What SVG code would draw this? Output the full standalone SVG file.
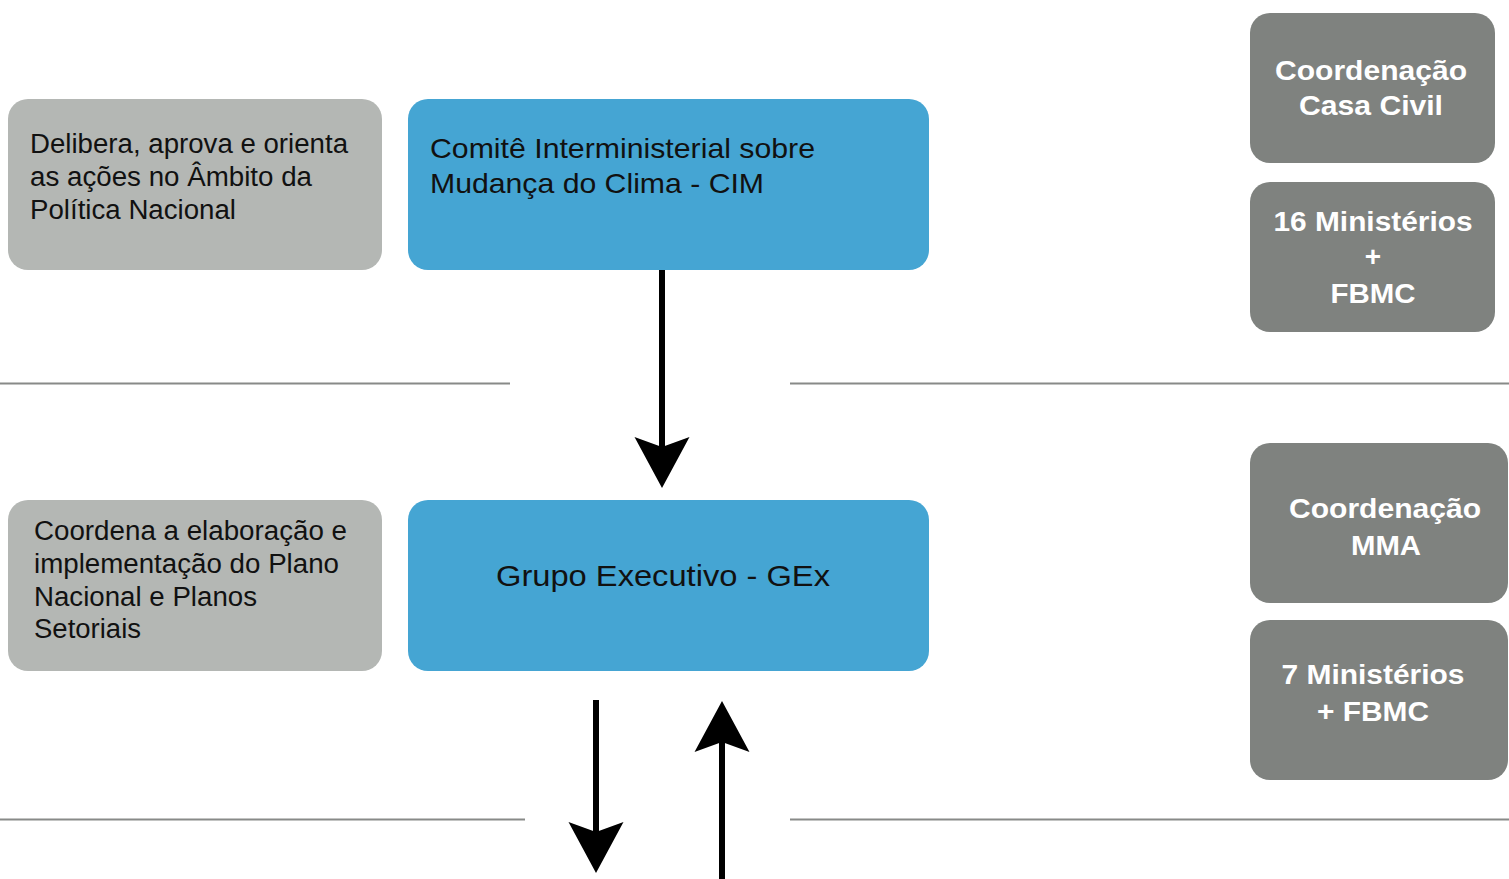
<svg xmlns="http://www.w3.org/2000/svg" width="1509" height="879" viewBox="0 0 1509 879">
<style>
.bg{fill:#ffffff}
.desc{fill:#b4b7b4}
.main{fill:#45a5d3}
.side{fill:#7f827f}
.sep{stroke:#888a88;stroke-width:2;fill:none}
.conn{stroke:#000;stroke-width:6;fill:none}
.t{font-family:"Liberation Sans",Arial,sans-serif;fill:#111;font-size:27px}
.tb{font-family:"Liberation Sans",Arial,sans-serif;fill:#fff;font-size:28px;font-weight:bold;text-anchor:middle}
</style>
<defs>
<marker id="ah" markerUnits="userSpaceOnUse" orient="auto" viewBox="-52 -28 53 56" markerWidth="53" markerHeight="56" refX="-20" refY="0">
<path d="M0,0 L-51,-27.5 L-41,0 L-51,27.5 Z" fill="#000"/>
</marker>
</defs>
<rect class="bg" x="0" y="0" width="1509" height="879"/>
<g id="separators">
<line class="sep" x1="0" y1="383.5" x2="510" y2="383.5"/>
<line class="sep" x1="790" y1="383.5" x2="1509" y2="383.5"/>
<line class="sep" x1="0" y1="819.5" x2="525" y2="819.5"/>
<line class="sep" x1="790" y1="819.5" x2="1509" y2="819.5"/>
</g>
<g id="desc1">
<rect class="desc" x="8" y="99" width="374" height="171" rx="20"/>
<text class="t" x="30" y="153" textLength="318" lengthAdjust="spacingAndGlyphs">Delibera, aprova e orienta</text>
<text class="t" x="30" y="186" textLength="282" lengthAdjust="spacingAndGlyphs">as ações no Âmbito da</text>
<text class="t" x="30" y="219" textLength="206" lengthAdjust="spacingAndGlyphs">Política Nacional</text>
</g>
<g id="cim">
<rect class="main" x="408" y="99" width="521" height="171" rx="20"/>
<text class="t" x="430" y="158" style="font-size:28px" textLength="385" lengthAdjust="spacingAndGlyphs">Comitê Interministerial sobre</text>
<text class="t" x="430" y="193" style="font-size:28px" textLength="334" lengthAdjust="spacingAndGlyphs">Mudança do Clima - CIM</text>
</g>
<g id="desc2">
<rect class="desc" x="8" y="500" width="374" height="171" rx="20"/>
<text class="t" x="34" y="540" textLength="313" lengthAdjust="spacingAndGlyphs">Coordena a elaboração e</text>
<text class="t" x="34" y="573" textLength="305" lengthAdjust="spacingAndGlyphs">implementação do Plano</text>
<text class="t" x="34" y="606" textLength="223" lengthAdjust="spacingAndGlyphs">Nacional e Planos</text>
<text class="t" x="34" y="638" textLength="107" lengthAdjust="spacingAndGlyphs">Setoriais</text>
</g>
<g id="gex">
<rect class="main" x="408" y="500" width="521" height="171" rx="20"/>
<text class="t" x="496" y="586" style="font-size:30px" textLength="334" lengthAdjust="spacingAndGlyphs">Grupo Executivo - GEx</text>
</g>
<g id="coord-cc">
<rect class="side" x="1250" y="13" width="245" height="150" rx="20"/>
<text class="tb" x="1371" y="80" textLength="192" lengthAdjust="spacingAndGlyphs">Coordenação</text>
<text class="tb" x="1371" y="115" textLength="144" lengthAdjust="spacingAndGlyphs">Casa Civil</text>
</g>
<g id="min16">
<rect class="side" x="1250" y="182" width="245" height="150" rx="20"/>
<text class="tb" x="1373" y="231" textLength="199" lengthAdjust="spacingAndGlyphs">16 Ministérios</text>
<text class="tb" x="1373" y="266">+</text>
<text class="tb" x="1373" y="303" textLength="85" lengthAdjust="spacingAndGlyphs">FBMC</text>
</g>
<g id="coord-mma">
<rect class="side" x="1250" y="443" width="258" height="160" rx="20"/>
<text class="tb" x="1385" y="518" textLength="192" lengthAdjust="spacingAndGlyphs">Coordenação</text>
<text class="tb" x="1386" y="555" textLength="70" lengthAdjust="spacingAndGlyphs">MMA</text>
</g>
<g id="min7">
<rect class="side" x="1250" y="620" width="258" height="160" rx="20"/>
<text class="tb" x="1373" y="684" textLength="183" lengthAdjust="spacingAndGlyphs">7 Ministérios</text>
<text class="tb" x="1373" y="721" textLength="112" lengthAdjust="spacingAndGlyphs">+ FBMC</text>
</g>
<g id="connectors">
<line class="conn" x1="662" y1="270" x2="662" y2="468" marker-end="url(#ah)"/>
<line class="conn" x1="596" y1="700" x2="596" y2="853" marker-end="url(#ah)"/>
<line class="conn" x1="722" y1="879" x2="722" y2="721" marker-end="url(#ah)"/>
</g>
</svg>
